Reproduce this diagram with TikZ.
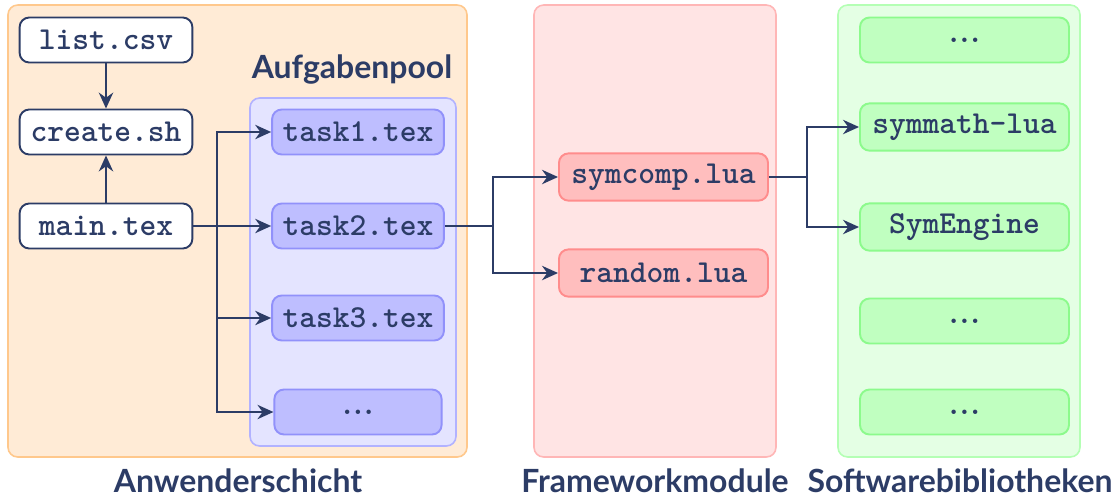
\documentclass[tikz,border=0pt]{standalone}
\usepackage{fontspec}
\newfontfamily\labelfont{Lato}
\usetikzlibrary{arrows.meta}
\definecolor{navy}{RGB}{44,60,102}
\definecolor{orangefill}{RGB}{255,235,214}
\definecolor{orangedraw}{RGB}{255,200,140}
\definecolor{bluefill}{RGB}{228,228,255}
\definecolor{bluedraw}{RGB}{178,178,255}
\definecolor{bluenode}{RGB}{190,190,255}
\definecolor{blueline}{RGB}{145,145,250}
\definecolor{redfill}{RGB}{255,228,228}
\definecolor{reddraw}{RGB}{255,182,182}
\definecolor{rednode}{RGB}{255,190,190}
\definecolor{redline}{RGB}{255,140,140}
\definecolor{greenfill}{RGB}{228,255,228}
\definecolor{greendraw}{RGB}{180,255,180}
\definecolor{greennode}{RGB}{192,255,192}
\definecolor{greenline}{RGB}{140,250,140}
\newcommand{\tightdots}{.\kern-1.9pt.\kern-1.9pt.}
\tikzset{ file/.style = { rectangle % file box
        , rounded corners = 3pt
        , line width = 0.6pt
        , minimum height = 4.95mm
        , font = \ttfamily\bfseries\color{navy}
        , inner sep = 0pt
        }
        , layer/.style = { rectangle % layer frame
        , rounded corners = 3pt
        , line width = 0.5pt
        , inner sep = 0pt
        }
        , title/.style = { % layer title
        font = \labelfont\bfseries\color{navy}
        }
        }

\begin{document}
\begin{tikzpicture}[x=0.011cm, y=-0.011cm,
        user_style/.style={file, draw=navy, fill=white, minimum width=19mm},
        task_style/.style={file, draw=blueline, fill=bluenode, minimum width=18.9mm},
        module_style/.style={file, draw=redline, fill=rednode, minimum width=23mm, minimum height=5.2mm},
        lib_style/.style={file, draw=greenline, fill=greennode, minimum width=23mm},
        edge_style/.style={draw=navy, line width=0.6pt, -{Stealth[length=5pt,width=4.5pt]}},
        line_style/.style={draw=navy, line width=0.6pt}]
        \useasboundingbox (0,0) rectangle (1112,496);

        % frames
        \node [layer, draw=orangedraw, fill=orangefill, minimum width=459*0.11mm, minimum height=452*0.11mm] (f1) at (237.5,231) {};
        \node [layer, draw=bluedraw, fill=bluefill, minimum width=206*0.11mm, minimum height=348*0.11mm] (f2) at (353,272) {};
        \node [layer, draw=reddraw, fill=redfill, minimum width=242*0.11mm, minimum height=452*0.11mm] (f3) at (655,231) {};
        \node [layer, draw=greendraw, fill=greenfill, minimum width=242*0.11mm, minimum height=452*0.11mm] (f4) at (959,231) {};

        % titles
        \node [title] (l1) at (238,481) {Anwenderschicht};
        \node [title] (l2) at (352,70) {Aufgabenpool};
        \node [title] (l3) at (655,481) {Frameworkmodule};
        \node [title] (l4) at (960,481) {Softwarebibliotheken};

        % user layer
        \node [user_style] (n1) at (106,40) {list.csv};
        \node [user_style] (n2) at (106,132) {create.sh};
        \node [user_style] (n3) at (106,226) {main.tex};

        % task pool
        \node [task_style] (t1) at (358,132) {task1.tex};
        \node [task_style] (t2) at (358,226) {task2.tex};
        \node [task_style] (t3) at (358,318) {task3.tex};
        \node [task_style, minimum width=18.4mm] (t4) at (358,412) {\tightdots};

        % modules
        \node [module_style] (m1) at (663.5,177) {symcomp.lua};
        \node [module_style] (m2) at (663.5,273) {random.lua};

        % libraries
        \node [lib_style] (b1) at (964.5,40) {\tightdots};
        \node [lib_style, minimum height=5.2mm] (b2) at (964.5,127) {symmath-lua};
        \node [lib_style, minimum height=5.2mm] (b3) at (964.5,227) {SymEngine};
        \node [lib_style] (b4) at (964.5,321) {\tightdots};
        \node [lib_style] (b5) at (964.5,412) {\tightdots};

        \coordinate (j1) at (217,226);
        \coordinate (j2) at (493,226);
        \coordinate (j3) at (807,177);

        \draw [edge_style] (n1) -- (n2);
        \draw [edge_style] (n3) -- (n2);
        \draw [line_style] (n3.east) -- (j1);
        \foreach \t in {t1,t2,t3,t4}
            \draw [edge_style] (j1) |- (\t.west);
        \draw [line_style] (t2.east) -- (j2);
        \draw [edge_style] (j2) |- (m1.west);
        \draw [edge_style] (j2) |- (m2.west);
        \draw [line_style] (m1.east) -- (j3);
        \draw [edge_style] (j3) |- (b2.west);
        \draw [edge_style] (j3) |- (b3.west);

        \end{tikzpicture}
\end{document}
